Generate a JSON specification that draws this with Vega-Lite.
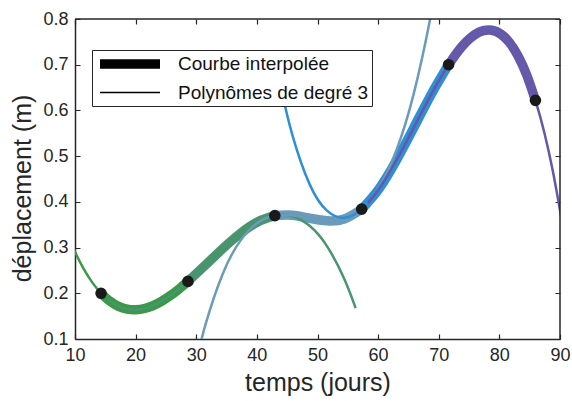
{
  "$schema": "https://vega.github.io/schema/vega-lite/v6.json",
  "width": 485,
  "height": 320,
  "autosize": {"type": "none"},
  "padding": {"left": 75, "top": 19, "right": 12, "bottom": 62},
  "background": "white",
  "config": {
    "font": "Liberation Sans",
    "view": {"stroke": null},
    "axis": {
      "domainColor": "#262626", "domainWidth": 1.5,
      "ticks": false,
      "labelColor": "#262626", "labelFontSize": 18, "labelPadding": 7, "labelFont": "Liberation Sans",
      "labelFlush": false, "labelOverlap": false, "labelBound": false,
      "titleColor": "#262626", "titleFontSize": 25, "titleFontWeight": "normal", "titleFont": "Liberation Sans",
      "grid": true, "gridColor": "#262626", "gridWidth": 1.2, "gridOpacity": 1
    }
  },
  "datasets": {
    "thick": [
      {"x":14.3,"y":0.2,"seg":"1","kind":"Courbe interpolée"},
      {"x":15.733,"y":0.1829,"seg":"1","kind":"Courbe interpolée"},
      {"x":17.166,"y":0.1715,"seg":"1","kind":"Courbe interpolée"},
      {"x":18.599,"y":0.1654,"seg":"1","kind":"Courbe interpolée"},
      {"x":20.032,"y":0.164,"seg":"1","kind":"Courbe interpolée"},
      {"x":21.465,"y":0.1667,"seg":"1","kind":"Courbe interpolée"},
      {"x":22.898,"y":0.1732,"seg":"1","kind":"Courbe interpolée"},
      {"x":24.331,"y":0.1829,"seg":"1","kind":"Courbe interpolée"},
      {"x":25.764,"y":0.1952,"seg":"1","kind":"Courbe interpolée"},
      {"x":27.197,"y":0.2098,"seg":"1","kind":"Courbe interpolée"},
      {"x":28.63,"y":0.226,"seg":"1","kind":"Courbe interpolée"},
      {"x":28.63,"y":0.226,"seg":"2","kind":"Courbe interpolée"},
      {"x":31.496,"y":0.2615,"seg":"2","kind":"Courbe interpolée"},
      {"x":34.362,"y":0.2977,"seg":"2","kind":"Courbe interpolée"},
      {"x":37.228,"y":0.3305,"seg":"2","kind":"Courbe interpolée"},
      {"x":40.094,"y":0.356,"seg":"2","kind":"Courbe interpolée"},
      {"x":42.96,"y":0.37,"seg":"2","kind":"Courbe interpolée"},
      {"x":42.96,"y":0.37,"seg":"3","kind":"Courbe interpolée"},
      {"x":45.826,"y":0.3706,"seg":"3","kind":"Courbe interpolée"},
      {"x":48.692,"y":0.3641,"seg":"3","kind":"Courbe interpolée"},
      {"x":51.558,"y":0.3586,"seg":"3","kind":"Courbe interpolée"},
      {"x":54.424,"y":0.3625,"seg":"3","kind":"Courbe interpolée"},
      {"x":57.29,"y":0.384,"seg":"3","kind":"Courbe interpolée"},
      {"x":57.29,"y":0.384,"seg":"4","kind":"Courbe interpolée"},
      {"x":60.156,"y":0.4287,"seg":"4","kind":"Courbe interpolée"},
      {"x":63.022,"y":0.491,"seg":"4","kind":"Courbe interpolée"},
      {"x":65.888,"y":0.5625,"seg":"4","kind":"Courbe interpolée"},
      {"x":68.754,"y":0.635,"seg":"4","kind":"Courbe interpolée"},
      {"x":71.62,"y":0.7,"seg":"4","kind":"Courbe interpolée"},
      {"x":71.62,"y":0.7,"seg":"5","kind":"Courbe interpolée"},
      {"x":73.053,"y":0.7271,"seg":"5","kind":"Courbe interpolée"},
      {"x":74.486,"y":0.7493,"seg":"5","kind":"Courbe interpolée"},
      {"x":75.919,"y":0.7654,"seg":"5","kind":"Courbe interpolée"},
      {"x":77.352,"y":0.7744,"seg":"5","kind":"Courbe interpolée"},
      {"x":78.785,"y":0.7754,"seg":"5","kind":"Courbe interpolée"},
      {"x":80.218,"y":0.7672,"seg":"5","kind":"Courbe interpolée"},
      {"x":81.651,"y":0.7488,"seg":"5","kind":"Courbe interpolée"},
      {"x":83.084,"y":0.7191,"seg":"5","kind":"Courbe interpolée"},
      {"x":84.517,"y":0.6772,"seg":"5","kind":"Courbe interpolée"},
      {"x":85.95,"y":0.622,"seg":"5","kind":"Courbe interpolée"}
    ],
    "thin": [
      {"x":8.568,"y":0.3357,"seg":"1","kind":"Polynômes de degré 3"},
      {"x":10.001,"y":0.2906,"seg":"1","kind":"Polynômes de degré 3"},
      {"x":11.434,"y":0.2534,"seg":"1","kind":"Polynômes de degré 3"},
      {"x":12.867,"y":0.2233,"seg":"1","kind":"Polynômes de degré 3"},
      {"x":14.3,"y":0.2,"seg":"1","kind":"Polynômes de degré 3"},
      {"x":15.733,"y":0.1829,"seg":"1","kind":"Polynômes de degré 3"},
      {"x":17.166,"y":0.1715,"seg":"1","kind":"Polynômes de degré 3"},
      {"x":18.599,"y":0.1654,"seg":"1","kind":"Polynômes de degré 3"},
      {"x":20.032,"y":0.164,"seg":"1","kind":"Polynômes de degré 3"},
      {"x":21.465,"y":0.1667,"seg":"1","kind":"Polynômes de degré 3"},
      {"x":22.898,"y":0.1732,"seg":"1","kind":"Polynômes de degré 3"},
      {"x":24.331,"y":0.1829,"seg":"1","kind":"Polynômes de degré 3"},
      {"x":25.764,"y":0.1952,"seg":"1","kind":"Polynômes de degré 3"},
      {"x":27.197,"y":0.2098,"seg":"1","kind":"Polynômes de degré 3"},
      {"x":28.63,"y":0.226,"seg":"1","kind":"Polynômes de degré 3"},
      {"x":31.496,"y":0.2615,"seg":"1","kind":"Polynômes de degré 3"},
      {"x":34.362,"y":0.2977,"seg":"1","kind":"Polynômes de degré 3"},
      {"x":37.228,"y":0.3305,"seg":"1","kind":"Polynômes de degré 3"},
      {"x":40.094,"y":0.356,"seg":"1","kind":"Polynômes de degré 3"},
      {"x":41.957,"y":0.3667,"seg":"1","kind":"Polynômes de degré 3"},
      {"x":15.303,"y":0.1874,"seg":"2","kind":"Polynômes de degré 3"},
      {"x":17.166,"y":0.1715,"seg":"2","kind":"Polynômes de degré 3"},
      {"x":18.599,"y":0.1654,"seg":"2","kind":"Polynômes de degré 3"},
      {"x":20.032,"y":0.164,"seg":"2","kind":"Polynômes de degré 3"},
      {"x":21.465,"y":0.1667,"seg":"2","kind":"Polynômes de degré 3"},
      {"x":22.898,"y":0.1732,"seg":"2","kind":"Polynômes de degré 3"},
      {"x":24.331,"y":0.1829,"seg":"2","kind":"Polynômes de degré 3"},
      {"x":25.764,"y":0.1952,"seg":"2","kind":"Polynômes de degré 3"},
      {"x":27.197,"y":0.2098,"seg":"2","kind":"Polynômes de degré 3"},
      {"x":28.63,"y":0.226,"seg":"2","kind":"Polynômes de degré 3"},
      {"x":31.496,"y":0.2615,"seg":"2","kind":"Polynômes de degré 3"},
      {"x":34.362,"y":0.2977,"seg":"2","kind":"Polynômes de degré 3"},
      {"x":37.228,"y":0.3305,"seg":"2","kind":"Polynômes de degré 3"},
      {"x":40.094,"y":0.356,"seg":"2","kind":"Polynômes de degré 3"},
      {"x":42.96,"y":0.37,"seg":"2","kind":"Polynômes de degré 3"},
      {"x":45.826,"y":0.3686,"seg":"2","kind":"Polynômes de degré 3"},
      {"x":48.692,"y":0.3476,"seg":"2","kind":"Polynômes de degré 3"},
      {"x":51.558,"y":0.3032,"seg":"2","kind":"Polynômes de degré 3"},
      {"x":54.424,"y":0.2312,"seg":"2","kind":"Polynômes de degré 3"},
      {"x":56.287,"y":0.1676,"seg":"2","kind":"Polynômes de degré 3"},
      {"x":29.633,"y":0.0318,"seg":"3","kind":"Polynômes de degré 3"},
      {"x":31.496,"y":0.1302,"seg":"3","kind":"Polynômes de degré 3"},
      {"x":34.362,"y":0.2423,"seg":"3","kind":"Polynômes de degré 3"},
      {"x":37.228,"y":0.3141,"seg":"3","kind":"Polynômes de degré 3"},
      {"x":40.094,"y":0.3539,"seg":"3","kind":"Polynômes de degré 3"},
      {"x":42.96,"y":0.37,"seg":"3","kind":"Polynômes de degré 3"},
      {"x":45.826,"y":0.3706,"seg":"3","kind":"Polynômes de degré 3"},
      {"x":48.692,"y":0.3641,"seg":"3","kind":"Polynômes de degré 3"},
      {"x":51.558,"y":0.3586,"seg":"3","kind":"Polynômes de degré 3"},
      {"x":54.424,"y":0.3625,"seg":"3","kind":"Polynômes de degré 3"},
      {"x":57.29,"y":0.384,"seg":"3","kind":"Polynômes de degré 3"},
      {"x":60.156,"y":0.4315,"seg":"3","kind":"Polynômes de degré 3"},
      {"x":63.022,"y":0.5131,"seg":"3","kind":"Polynômes de degré 3"},
      {"x":65.888,"y":0.6372,"seg":"3","kind":"Polynômes de degré 3"},
      {"x":68.754,"y":0.8121,"seg":"3","kind":"Polynômes de degré 3"},
      {"x":70.617,"y":0.9569,"seg":"3","kind":"Polynômes de degré 3"},
      {"x":43.963,"y":0.6499,"seg":"4","kind":"Polynômes de degré 3"},
      {"x":45.826,"y":0.5477,"seg":"4","kind":"Polynômes de degré 3"},
      {"x":48.692,"y":0.4388,"seg":"4","kind":"Polynômes de degré 3"},
      {"x":51.558,"y":0.3807,"seg":"4","kind":"Polynômes de degré 3"},
      {"x":54.424,"y":0.3652,"seg":"4","kind":"Polynômes de degré 3"},
      {"x":57.29,"y":0.384,"seg":"4","kind":"Polynômes de degré 3"},
      {"x":60.156,"y":0.4287,"seg":"4","kind":"Polynômes de degré 3"},
      {"x":63.022,"y":0.491,"seg":"4","kind":"Polynômes de degré 3"},
      {"x":65.888,"y":0.5625,"seg":"4","kind":"Polynômes de degré 3"},
      {"x":68.754,"y":0.635,"seg":"4","kind":"Polynômes de degré 3"},
      {"x":71.62,"y":0.7,"seg":"4","kind":"Polynômes de degré 3"},
      {"x":74.486,"y":0.7493,"seg":"4","kind":"Polynômes de degré 3"},
      {"x":77.352,"y":0.7744,"seg":"4","kind":"Polynômes de degré 3"},
      {"x":80.218,"y":0.7672,"seg":"4","kind":"Polynômes de degré 3"},
      {"x":83.084,"y":0.7191,"seg":"4","kind":"Polynômes de degré 3"},
      {"x":84.947,"y":0.6621,"seg":"4","kind":"Polynômes de degré 3"},
      {"x":58.293,"y":0.3971,"seg":"5","kind":"Polynômes de degré 3"},
      {"x":60.156,"y":0.4287,"seg":"5","kind":"Polynômes de degré 3"},
      {"x":63.022,"y":0.491,"seg":"5","kind":"Polynômes de degré 3"},
      {"x":65.888,"y":0.5625,"seg":"5","kind":"Polynômes de degré 3"},
      {"x":68.754,"y":0.635,"seg":"5","kind":"Polynômes de degré 3"},
      {"x":71.62,"y":0.7,"seg":"5","kind":"Polynômes de degré 3"},
      {"x":74.486,"y":0.7493,"seg":"5","kind":"Polynômes de degré 3"},
      {"x":77.352,"y":0.7744,"seg":"5","kind":"Polynômes de degré 3"},
      {"x":80.218,"y":0.7672,"seg":"5","kind":"Polynômes de degré 3"},
      {"x":83.084,"y":0.7191,"seg":"5","kind":"Polynômes de degré 3"},
      {"x":85.95,"y":0.622,"seg":"5","kind":"Polynômes de degré 3"},
      {"x":88.816,"y":0.4674,"seg":"5","kind":"Polynômes de degré 3"},
      {"x":91.682,"y":0.2471,"seg":"5","kind":"Polynômes de degré 3"}
    ],
    "points": [
      {"x":14.3,"y":0.2},
      {"x":28.63,"y":0.226},
      {"x":42.96,"y":0.37},
      {"x":57.29,"y":0.384},
      {"x":71.62,"y":0.7},
      {"x":85.95,"y":0.622}
    ]
  },
  "layer": [
    {
      "data": {"name": "thick"},
      "mark": {"type": "line", "interpolate": "natural", "clip": true, "strokeCap": "butt"},
      "encoding": {
        "x": {"field": "x", "type": "quantitative",
              "scale": {"domain": [10, 90], "nice": false, "zero": false},
              "axis": {"orient": "bottom", "values": [10,20,30,40,50,60,70,80,90], "gridDash": [5, 310], "title": "temps (jours)", "titlePadding": 6}},
        "y": {"field": "y", "type": "quantitative",
              "scale": {"domain": [0.1, 0.8], "nice": false, "zero": false},
              "axis": {"orient": "left", "values": [0.1,0.2,0.3,0.4,0.5,0.6,0.7,0.8], "format": ".1f", "gridDash": [5, 475], "title": "déplacement (m)", "titlePadding": 7, "titleY": 169}},
        "color": {"field": "seg", "type": "nominal",
                  "scale": {"domain": ["1","2","3","4","5"], "range": ["#3a9a47","#4a9470","#6a9bba","#2f8fd4","#6757a8"]},
                  "legend": null},
        "strokeWidth": {"field": "kind", "type": "nominal",
                  "scale": {"type": "ordinal", "domain": ["Courbe interpolée", "Polynômes de degré 3"], "range": [9.5, 1.3]},
                  "legend": {"orient": "none", "legendX": 17, "legendY": 31, "title": null,
                             "symbolType": "M-5,0H5", "symbolSize": 144, "symbolStrokeColor": "black", "symbolFillColor": "transparent",
                             "labelFontSize": 19, "labelFont": "Liberation Sans", "labelColor": "#111111", "labelLimit": 400,
                             "fillColor": "white", "strokeColor": "#262626", "padding": 3, "symbolOffset": 24,
                             "labelOffset": 37, "rowPadding": -7}}
      }
    },
    {
      "data": {"name": "thin"},
      "mark": {"type": "line", "interpolate": "natural", "clip": true},
      "encoding": {
        "x": {"field": "x", "type": "quantitative"},
        "y": {"field": "y", "type": "quantitative"},
        "color": {"field": "seg", "type": "nominal", "legend": null},
        "strokeWidth": {"field": "kind", "type": "nominal", "legend": null}
      }
    },
    {
      "data": {"name": "points"},
      "mark": {"type": "circle", "size": 135, "color": "#1a1a1a", "opacity": 1},
      "encoding": {
        "x": {"field": "x", "type": "quantitative"},
        "y": {"field": "y", "type": "quantitative"}
      }
    },
    {
      "data": {"values": [{}]},
      "mark": {"type": "rule", "color": "#262626", "strokeWidth": 1.5},
      "encoding": {"y": {"datum": 0.8}}
    },
    {
      "data": {"values": [{}]},
      "mark": {"type": "rule", "color": "#262626", "strokeWidth": 1.5},
      "encoding": {"x": {"datum": 90}}
    }
  ]
}
